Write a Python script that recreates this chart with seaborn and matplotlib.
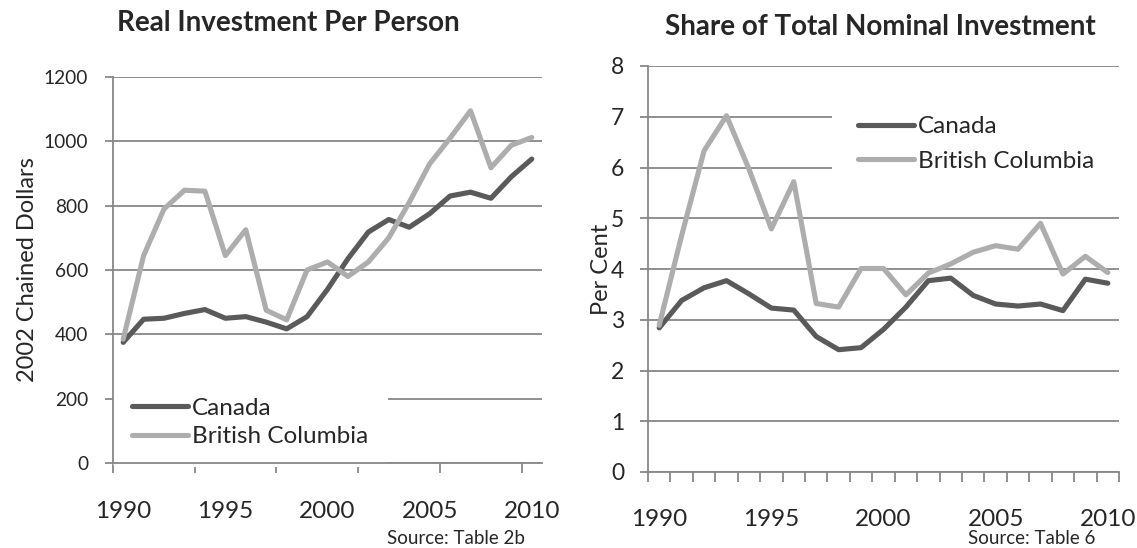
import matplotlib
matplotlib.use("Agg")
from matplotlib import pyplot as plt
import numpy as np
import pandas as pd
import seaborn as sns

years = list(range(1990, 2011))

# real investment per person, 2002 chained dollars
real_canada = [375, 447, 450, 465, 477, 450, 455, 438, 417, 455, 540,
               635, 718, 757, 733, 775, 830, 842, 823, 890, 945]
real_bc = [385, 645, 790, 848, 845, 645, 725, 475, 445, 600, 625,
           580, 625, 700, 810, 930, 1010, 1095, 918, 988, 1012]

# share of total nominal investment, per cent
share_canada = [2.84, 3.38, 3.63, 3.77, 3.51, 3.23, 3.19, 2.67, 2.41, 2.45, 2.81,
                3.25, 3.77, 3.82, 3.48, 3.31, 3.27, 3.31, 3.18, 3.80, 3.72]
share_bc = [2.89, 4.66, 6.33, 7.02, 5.97, 4.79, 5.72, 3.32, 3.25, 4.01, 4.01,
            3.49, 3.92, 4.10, 4.33, 4.46, 4.39, 4.90, 3.90, 4.25, 3.93]

label_years = [1990, 1995, 2000, 2005, 2010]
regions = ["Canada", "British Columbia"]
colors = {"Canada": "#5a5a5a", "British Columbia": "#adadad"}
grid_col = "#878787"

sns.set_style("white")
plt.rcParams["font.family"] = ["Lato", "DejaVu Sans"]

real = pd.DataFrame({"year": years * 2,
                     "value": real_canada + real_bc,
                     "region": ["Canada"] * 21 + ["British Columbia"] * 21})
share = pd.DataFrame({"year": years * 2,
                      "value": share_canada + share_bc,
                      "region": ["Canada"] * 21 + ["British Columbia"] * 21})

fig = plt.figure(figsize=(11.37, 5.48), dpi=100)
ax1 = fig.add_axes([113/1137, 1-463/548, 429/1137, 386/548])
ax2 = fig.add_axes([648/1137, 1-472/548, 471/1137, 406/548])


def style_axis(ax, df, ymax, ystep, tick_every, ytick_size, ypad, ylabel, ylab_x):
    sns.lineplot(data=df, x="year", y="value", hue="region", hue_order=regions,
                 palette=colors, linewidth=3.7, ax=ax, legend=False)
    ax.set_xlim(1989.5, 2010.5)
    ax.set_ylim(0, ymax)
    ax.set_yticks(np.arange(0, ymax + ystep / 2, ystep))
    ax.set_axisbelow(True)
    ax.grid(axis="y", color=grid_col, lw=1.3)
    ax.grid(axis="x", visible=False)
    for s in ["top", "right"]:
        ax.spines[s].set_visible(False)
    for s in ["left", "bottom"]:
        ax.spines[s].set_color(grid_col)
        ax.spines[s].set_linewidth(1.3)
        ax.spines[s].set_zorder(6)
    ax.set_xticks(label_years)
    ax.set_xticklabels([str(y) for y in label_years])
    ax.set_xticks(np.arange(1989.5, 2010.6, tick_every), minor=True)
    ax.tick_params(axis="x", which="major", length=0, pad=27, labelsize=17.5)
    ax.tick_params(axis="x", which="minor", length=7, width=1.3, color=grid_col,
                   direction="out", bottom=True)
    ax.tick_params(axis="y", length=6, width=1.3, color=grid_col, direction="out",
                   left=True, labelsize=ytick_size, pad=ypad)
    ax.set_xlabel("")
    ax.set_ylabel(ylabel, fontsize=17, va="center")
    ax.yaxis.set_label_coords(ylab_x, 0.5)


style_axis(ax1, real, 1200, 200, 4, 13.8, 12, "2002 Chained Dollars", (28 - 113) / 429)
style_axis(ax2, share, 8, 1, 1, 16.5, 11, "Per Cent", (601 - 648) / 471)

handles = [plt.Line2D([], [], color=colors[r], lw=3.7) for r in regions]
ax1.legend(handles, regions, loc="center left", bbox_to_anchor=(0.0, 0.105),
           borderaxespad=0, frameon=True, facecolor="white", edgecolor="none",
           framealpha=1, fontsize=17.5, handlelength=2.3, handletextpad=0.15,
           labelspacing=0.3, borderpad=0.8)
ax2.legend(handles, regions, loc="center left", bbox_to_anchor=(0.39, 0.808),
           borderaxespad=0, frameon=True, facecolor="white", edgecolor="none",
           framealpha=1, fontsize=17.5, handlelength=2.3, handletextpad=0.15,
           labelspacing=0.55, borderpad=1.1)

fig.text(288/1137, 1-23/548, "Real Investment Per Person", ha="center", va="center",
         fontsize=20, fontweight="bold")
fig.text(880/1137, 1-27/548, "Share of Total Nominal Investment", ha="center", va="center",
         fontsize=20, fontweight="bold")
fig.text(525/1137, 1-538/548, "Source: Table 2b", ha="right", va="center", fontsize=13.5)
fig.text(1095/1137, 1-538/548, "Source: Table 6", ha="right", va="center", fontsize=13.5)

fig.savefig("out.png", dpi=100)
